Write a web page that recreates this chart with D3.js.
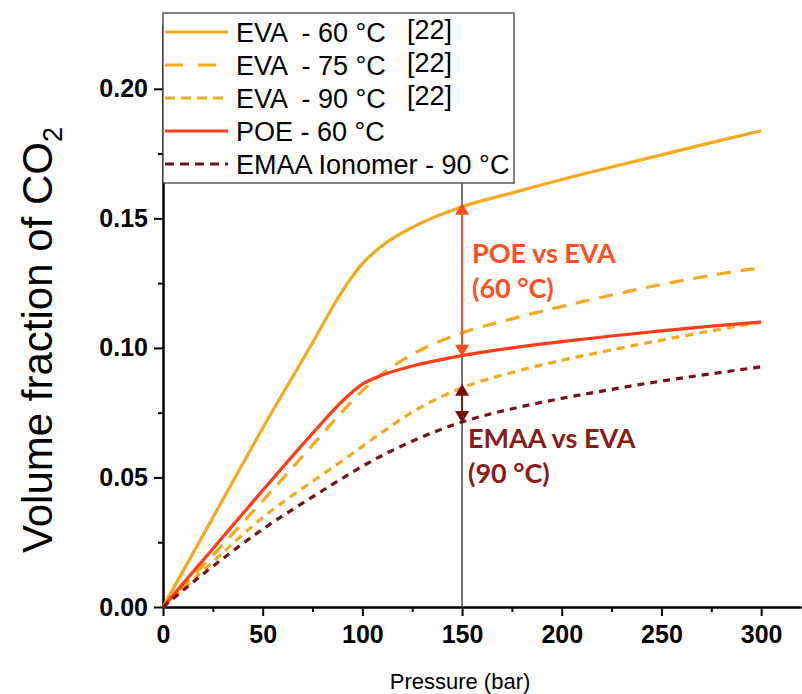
<!DOCTYPE html>
<html>
<head>
<meta charset="utf-8">
<script src="https://cdn.jsdelivr.net/npm/d3@7"></script>
<style>
  html, body { margin: 0; padding: 0; background: #fff; }
  svg { display: block; }
</style>
</head>
<body>
<svg id="chart" width="802" height="694"></svg>
<script>
// ---- Data ----
const pressure = [0, 25, 50, 75, 90, 100, 110, 125, 150, 175, 200, 225, 250, 275, 300];
const eva60 = [0, 0.0345, 0.069, 0.102, 0.122, 0.1325, 0.1395, 0.1465, 0.1545, 0.1598, 0.1650, 0.1698, 0.1745, 0.1792, 0.1838];
const eva75 = [0, 0.020, 0.041, 0.0625, 0.0755, 0.0835, 0.0900, 0.0975, 0.1058, 0.1112, 0.1160, 0.1204, 0.1245, 0.1280, 0.1310];
const eva90 = [0, 0.0175, 0.0345, 0.0485, 0.0565, 0.0620, 0.0675, 0.0752, 0.0846, 0.0905, 0.0952, 0.0992, 0.1030, 0.1066, 0.1100];
const poe60 = [0, 0.0225, 0.045, 0.067, 0.0795, 0.0860, 0.0895, 0.0930, 0.0970, 0.1000, 0.1024, 0.1046, 0.1066, 0.1084, 0.1100];
const emaa90 = [0, 0.0157, 0.030, 0.0425, 0.0497, 0.0543, 0.0585, 0.0640, 0.0714, 0.0765, 0.0805, 0.0840, 0.0872, 0.0900, 0.0927];

const seriesNames = ["EVA  - 60 °C", "EVA  - 75 °C", "EVA  - 90 °C", "POE - 60 °C", "EMAA Ionomer - 90 °C"];
const seriesRefs = ["[22]", "[22]", "[22]", "", ""];
const xTicks = [0, 50, 100, 150, 200, 250, 300];
const yTicks = [0.00, 0.05, 0.10, 0.15, 0.20];
const comparePressure = 150;
const annotationPOE = ["POE vs EVA", "(60 °C)"];
const annotationEMAA = ["EMAA vs EVA", "(90 °C)"];

// ---- Styles ----
const EVA_C = "#F6A91D", POE_C = "#FF3D17", EMAA_C = "#7A0E1E";
const styles = [
  { color: EVA_C, dash: null, legendDash: null },
  { color: EVA_C, dash: "14,10", legendDash: "18,15" },
  { color: EVA_C, dash: "8,6", legendDash: "10,6" },
  { color: POE_C, dash: null, legendDash: null },
  { color: EMAA_C, dash: "7,6", legendDash: "9,6" }
];
const seriesValues = [eva60, eva75, eva90, poe60, emaa90];

const svg = d3.select("#chart");
const x = d3.scaleLinear().domain([0, 320]).range([163, 801]);
const y = d3.scaleLinear().domain([0, 0.225]).range([607, 24]);

// ---- Axes ----
const xAxis = d3.axisBottom(x).tickValues(xTicks).tickSize(9).tickSizeOuter(0).tickPadding(9).tickFormat(d3.format("d"));
const xMinor = d3.axisBottom(x).tickValues(d3.range(25, 320, 50)).tickSize(5).tickSizeOuter(0).tickFormat("");
const yAxis = d3.axisLeft(y).tickValues(yTicks).tickSize(9).tickSizeOuter(0).tickPadding(6).tickFormat(d3.format(".2f"));
const yMinor = d3.axisLeft(y).tickValues(d3.range(0.025, 0.225, 0.05)).tickSize(5).tickSizeOuter(0).tickFormat("");

function styleAxis(g) {
  g.select(".domain").attr("stroke", "#000").attr("stroke-width", 2);
  g.selectAll(".tick line").attr("stroke", "#000").attr("stroke-width", 2);
  g.selectAll(".tick text").attr("fill", "#000")
    .style("font-family", "'Liberation Sans', Arial, sans-serif")
    .style("font-weight", "bold").style("font-size", "25px");
}
svg.append("g").attr("transform", "translate(0,607)").call(xMinor).call(styleAxis);
svg.append("g").attr("transform", "translate(163,0)").call(yMinor).call(styleAxis);
svg.append("g").attr("transform", "translate(0,607)").call(xAxis).call(styleAxis);
svg.append("g").attr("transform", "translate(163,0)").call(yAxis).call(styleAxis);

// ---- Axis titles ----
const ylab = svg.append("text")
  .attr("transform", "translate(52,340) rotate(-90)")
  .attr("text-anchor", "middle")
  .style("font-family", "'Liberation Sans', Arial, sans-serif")
  .style("font-size", "42px").attr("fill", "#000");
ylab.append("tspan").text("Volume fraction of CO");
ylab.append("tspan").attr("dy", 10).style("font-size", "27px").text("2");

svg.append("text")
  .attr("x", 460).attr("y", 689)
  .attr("text-anchor", "middle")
  .style("font-family", "'Liberation Sans', Arial, sans-serif")
  .style("font-size", "22px").attr("fill", "#000")
  .text("Pressure (bar)");

// ---- Vertical comparison line ----
svg.append("line")
  .attr("x1", x(comparePressure)).attr("x2", x(comparePressure))
  .attr("y1", y(0)).attr("y2", y(0.2))
  .attr("stroke", "#555").attr("stroke-width", 1.6);

// ---- Curves ----
const line = d3.line().x((d, i) => x(pressure[i])).y(d => y(d)).curve(d3.curveMonotoneX);
seriesValues.forEach((vals, k) => {
  svg.append("path")
    .attr("d", line(vals))
    .attr("fill", "none")
    .attr("stroke", styles[k].color)
    .attr("stroke-width", 3.2)
    .attr("stroke-dasharray", styles[k].dash)
    .attr("stroke-linecap", "butt");
});

// ---- Arrows ----
const idx150 = pressure.indexOf(comparePressure);
function doubleArrow(vTop, vBot, color, lw) {
  const cx = x(comparePressure);
  const yt = y(vTop) - 4, yb = y(vBot) + 1;
  const hw = 7, hh = 12;
  svg.append("line").attr("x1", cx).attr("x2", cx).attr("y1", yt + hh).attr("y2", yb - hh)
    .attr("stroke", color).attr("stroke-width", lw);
  svg.append("path").attr("d", `M${cx},${yt} L${cx - hw},${yt + hh} L${cx + hw},${yt + hh} Z`).attr("fill", color);
  svg.append("path").attr("d", `M${cx},${yb} L${cx - hw},${yb - hh} L${cx + hw},${yb - hh} Z`).attr("fill", color);
}
doubleArrow(eva60[idx150], poe60[idx150], "#FF4A1C", 1.6);
doubleArrow(eva90[idx150], emaa90[idx150], "#7A0A0A", 1.6);

// ---- Annotation text ----
function annot(lines, x0, y0, color) {
  lines.forEach((t, i) => {
    svg.append("text").attr("x", x0).attr("y", y0 + i * 35)
      .style("font-family", "Lato, 'Open Sans', sans-serif")
      .style("font-weight", "bold").style("font-size", "27px")
      .attr("fill", color).text(t);
  });
}
annot(annotationPOE, 472, 263, "#FF4E1F");
annot(annotationEMAA, 468, 448, "#8B1A1A");

// ---- Legend ----
const lg = svg.append("g");
lg.append("rect").attr("x", 163).attr("y", 13).attr("width", 351).attr("height", 170)
  .attr("fill", "#fff").attr("stroke", "#444").attr("stroke-width", 1.3);
const rowY = [32, 65, 98, 131, 164];
seriesNames.forEach((name, k) => {
  lg.append("line").attr("x1", 165).attr("x2", 228).attr("y1", rowY[k]).attr("y2", rowY[k])
    .attr("stroke", styles[k].color).attr("stroke-width", 3.2)
    .attr("stroke-dasharray", styles[k].legendDash);
  lg.append("text").attr("x", 236).attr("y", rowY[k] + 10)
    .style("font-family", "'Liberation Sans', Arial, sans-serif")
    .style("font-size", "27px").style("white-space", "pre").attr("fill", "#000")
    .text(name);
  if (seriesRefs[k]) {
    lg.append("text").attr("x", 407).attr("y", rowY[k] + 7)
      .style("font-family", "'Liberation Sans', Arial, sans-serif")
      .style("font-size", "27px").attr("fill", "#000")
      .text(seriesRefs[k]);
  }
});
</script>
</body>
</html>
